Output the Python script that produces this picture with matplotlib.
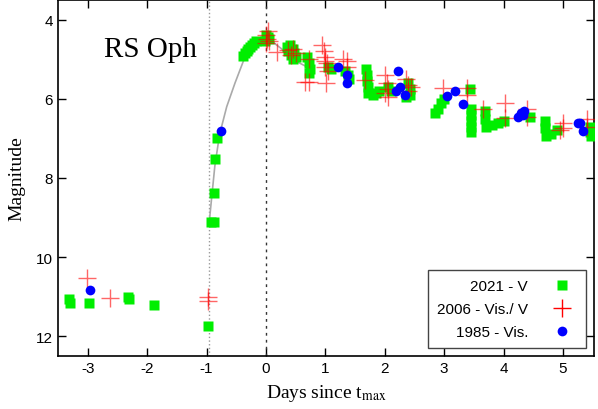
import matplotlib
matplotlib.use("Agg")
import matplotlib.pyplot as plt

# 2021 - V (green squares)
v2021_t = [-3.32, -3.30, -2.97, -2.33, -2.31, -1.89, -0.98, -0.93, -0.88, -0.88, -0.86, -0.82,
           -0.38, -0.35, -0.32, -0.30, -0.27, -0.24, -0.20, -0.17,
           -0.02, 0.00, 0.03, 0.05,
           0.35, 0.38, 0.40, 0.42, 0.45, 0.48, 0.50, 0.45,
           0.70, 0.72, 0.75, 0.73, 1.05, 1.10,
           1.33, 1.38, 1.40,
           1.68, 1.70, 1.70, 1.72, 1.72, 1.80, 1.85, 1.90,
           2.05, 2.10, 2.40, 2.42, 2.43, 2.35,
           2.85, 2.90, 2.95, 3.00,
           3.43, 3.45, 3.45, 3.45, 3.45, 3.45,
           3.68, 3.68, 3.70, 3.80, 3.90, 4.00, 4.45,
           4.70, 4.70, 4.72, 4.80, 4.90, 5.45, 5.45, 5.47]
v2021_m = [11.05, 11.15, 11.15, 11.0, 11.05, 11.2, 11.73, 9.12, 9.12, 8.39, 7.51, 7.0,
           4.92, 4.85, 4.80, 4.75, 4.70, 4.65, 4.60, 4.55,
           4.55, 4.40, 4.45, 4.50,
           4.70, 4.80, 4.65, 4.90, 4.75, 4.85, 4.95, 5.00,
           4.95, 5.10, 5.25, 5.35, 5.20, 5.25,
           5.30, 5.40, 5.50,
           5.25, 5.40, 5.55, 5.70, 5.85, 5.90, 5.85, 5.80,
           5.70, 5.80, 5.60, 5.75, 5.90, 5.95,
           6.35, 6.25, 6.10, 6.00,
           5.75, 6.25, 6.40, 6.55, 6.70, 6.85,
           6.30, 6.50, 6.70, 6.65, 6.60, 6.55, 6.45,
           6.55, 6.75, 6.95, 6.90, 6.80, 6.70, 6.85, 6.95]

# 2006 - Vis./V (red pluses)
v2006_t = [-3.01, -2.63, -0.97, -0.97,
           0.00, 0.02, 0.05, 0.00, 0.03,
           0.18, 0.38, 0.45, 0.50, 0.42, 0.72, 0.65, 0.72,
           0.95, 0.98, 1.00, 1.00, 1.02, 1.00, 1.05, 1.01,
           1.30, 1.36, 1.36, 1.67,
           2.00, 2.03, 2.05, 2.00, 2.05,
           2.35, 2.40, 2.40, 2.45,
           2.98, 3.38, 3.38, 3.65, 4.02, 4.02, 4.40, 4.40,
           5.00, 5.00, 4.95, 5.40, 5.40]
v2006_m = [10.52, 11.03, 11.0, 11.1,
           4.40, 4.50, 4.55, 4.60, 4.30,
           4.82, 4.78, 4.75, 4.85, 4.90, 5.00, 5.58, 5.58,
           4.65, 4.80, 4.95, 5.05, 5.10, 5.20, 5.30, 5.60,
           5.00, 5.05, 5.20, 5.52,
           5.40, 5.60, 5.75, 5.85, 5.95,
           5.50, 5.65, 5.80, 5.70,
           5.73, 5.72, 5.90, 6.27, 6.10, 6.48, 6.25, 6.45,
           6.73, 6.60, 6.80, 6.50, 6.70]

# 1985 - Vis. (blue circles)
v1985_t = [-2.96, -0.76, 1.21, 1.37, 1.37, 2.22, 2.19, 2.26, 2.34,
           3.05, 3.18, 3.32, 4.25, 4.30, 4.35, 4.32, 5.25, 5.28, 5.34]
v1985_m = [10.84, 6.82, 5.20, 5.41, 5.60, 5.30, 5.81, 5.70, 5.91,
           5.92, 5.80, 6.12, 6.45, 6.35, 6.30, 6.40, 6.60, 6.60, 6.82]

# fitted rise/decline curve
fit_t = [-0.96, -0.92, -0.86, -0.78, -0.66, -0.52, -0.38, -0.22, -0.05, 0.10,
         0.24, 0.40, 0.52, 0.66, 0.79]
fit_m = [9.2, 8.6, 7.7, 6.9, 6.2, 5.6, 5.05, 4.63, 4.48, 4.55,
         4.71, 4.90, 5.06, 5.17, 5.26]

plt.rcParams["font.family"] = ["Liberation Sans", "DejaVu Sans"]
plt.rcParams["axes.unicode_minus"] = False
plt.rcParams["mathtext.fontset"] = "stix"

fig = plt.figure(figsize=(5.98, 4.10), dpi=100)
ax = fig.add_axes([0.097, 0.129, 0.896, 0.869])

# start of outburst and time of maximum
ax.axvline(-0.95, color="#999999", ls=":", lw=1)
ax.axvline(0, color="#333333", ls=(0, (2, 3)), lw=1)
ax.plot(fit_t, fit_m, color="#aaaaaa", lw=1.2, zorder=2)

ax.plot(v2021_t, v2021_m, "s", color="#00ee00", ms=6.5, mec="none", ls="none",
        label="2021 - V", zorder=3)
ax.plot(v2006_t, v2006_m, "+", color="red", ms=13, mew=1, alpha=0.6, ls="none",
        label="2006 - Vis./ V", zorder=4)
ax.plot(v1985_t, v1985_m, "o", color="#0000ff", ms=7, mec="none", ls="none",
        label="1985 - Vis.", zorder=5)

ax.set_xlim(-3.5, 5.52)
ax.set_ylim(12.5, 3.5)
ax.set_xticks([-3, -2, -1, 0, 1, 2, 3, 4, 5])
ax.set_yticks([4, 6, 8, 10, 12])
ax.tick_params(direction="in", top=True, right=True, labelsize=11, length=6, width=1)
for s in ax.spines.values():
    s.set_linewidth(1.2)

ax.set_xlabel("Days since t$_{\\mathrm{max}}$", family="Liberation Serif", fontsize=14, labelpad=5)
ax.set_ylabel("Magnitude", family="Liberation Serif", fontsize=14, labelpad=8)
ax.text(0.172, 0.862, "RS Oph", family="Liberation Serif", fontsize=21,
        transform=ax.transAxes, ha="center", va="center")

leg = ax.legend(loc="lower right", markerfirst=False, fancybox=False, fontsize=11,
                edgecolor="#444444", framealpha=1, borderaxespad=0.5,
                handletextpad=1.2, labelspacing=0.6, borderpad=0.6)
leg.get_frame().set_linewidth(1)
for lh in leg.legend_handles:
    lh.set_alpha(1)
# right-align the legend rows, gnuplot style
vp = leg._legend_box._children[-1]._children[0]
vp.align = "right"

fig.savefig("out.png", dpi=100)
